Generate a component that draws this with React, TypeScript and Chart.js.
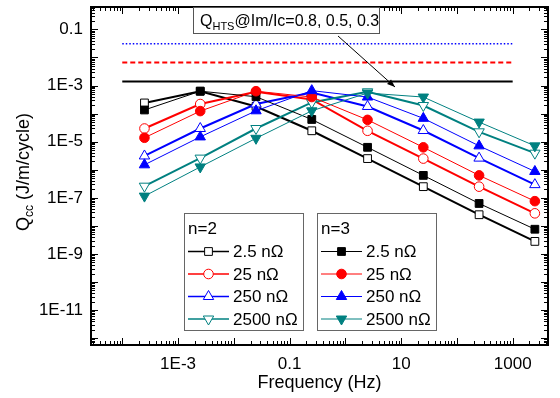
import React, { useEffect, useRef } from 'react';
import { Chart, registerables } from 'chart.js';
Chart.register(...registerables);

// ---------- data ----------
const frequencies = [2.5e-4, 2.5e-3, 0.025, 0.25, 2.5, 25, 250, 2500];
const resistanceLabels = ['2.5 nΩ', '25 nΩ', '250 nΩ', '2500 nΩ'];
const seriesColors = ['#000000', '#FF0000', '#0000FF', '#008080'];
const pointStyles = ['rect', 'circle', 'triangle', 'triangle'];
const pointRotations = [0, 0, 0, 180];

// n = 2 (open symbols)
const n2_2p5 = [2.4e-4, 6.3e-4, 1.8e-4, 2.45e-5, 2.5e-6, 2.5e-7, 2.5e-8, 2.8e-9];
const n2_25 = [2.95e-5, 2.2e-4, 6.0e-4, 3.2e-4, 2.45e-5, 2.5e-6, 2.5e-7, 2.8e-8];
const n2_250 = [3.1e-6, 2.95e-5, 2.2e-4, 5.6e-4, 1.8e-4, 2.5e-5, 2.6e-6, 2.95e-7];
const n2_2500 = [2.6e-7, 2.6e-6, 2.95e-5, 2.5e-4, 6.0e-4, 1.95e-4, 2.25e-5, 3.9e-6];

// n = 3 (filled symbols)
const n3_2p5 = [1.35e-4, 6.3e-4, 4.0e-4, 6.2e-5, 6.3e-6, 6.3e-7, 6.3e-8, 7.6e-9];
const n3_25 = [1.38e-5, 1.23e-4, 6.3e-4, 3.9e-4, 6.0e-5, 6.3e-6, 6.3e-7, 7.6e-8];
const n3_250 = [1.5e-6, 1.48e-5, 1.26e-4, 6.6e-4, 3.9e-4, 6.8e-5, 7.1e-6, 8.7e-7];
const n3_2500 = [1.15e-7, 1.26e-6, 1.32e-5, 1.26e-4, 5.4e-4, 3.9e-4, 5.0e-5, 7.1e-6];

// Q_HTS reference lines (Im/Ic = 0.3, 0.5, 0.8)
const hLineFreq = [1e-4, 1000];
const qhts03 = 1.4e-3;
const qhts05 = 6.6e-3;
const qhts08 = 0.031;

// axes
const xMin = 2.75e-5;
const xMax = 4300;
const yMin = 5.7e-13;
const yMax = 0.63;
const xTickValues = [1e-3, 0.1, 10, 1000];
const xTickLabels = ['1E-3', '0.1', '10', '1000'];
const yTickValues = [0.1, 1e-3, 1e-5, 1e-7, 1e-9, 1e-11];
const yTickLabels = ['0.1', '1E-3', '1E-5', '1E-7', '1E-9', '1E-11'];

const FONT = '"Liberation Sans", Arial, Helvetica, sans-serif';

const n2Sets = [n2_2p5, n2_25, n2_250, n2_2500];
const n3Sets = [n3_2p5, n3_25, n3_250, n3_2500];
const radii = [5.5, 4.8, 6, 6];

function toXY(vals: number[]) {
  return vals.map((v, i) => ({ x: frequencies[i], y: v }));
}

function labelFor(values: number[], labels: string[], v: number) {
  for (let i = 0; i < values.length; i++) {
    if (Math.abs(Math.log10(v) - Math.log10(values[i])) < 1e-6) return labels[i];
  }
  return '';
}

function drawMarker(ctx: CanvasRenderingContext2D, style: string, rot: number, x: number, y: number, r: number, color: string, filled: boolean) {
  ctx.save();
  ctx.beginPath();
  if (style === 'rect') {
    const s = Math.SQRT1_2 * r;
    ctx.rect(x - s, y - s, 2 * s, 2 * s);
  } else if (style === 'circle') {
    ctx.arc(x, y, r, 0, Math.PI * 2);
  } else {
    let rad = (rot * Math.PI) / 180;
    ctx.moveTo(x + Math.sin(rad) * r, y - Math.cos(rad) * r);
    rad += (2 * Math.PI) / 3;
    ctx.lineTo(x + Math.sin(rad) * r, y - Math.cos(rad) * r);
    rad += (2 * Math.PI) / 3;
    ctx.lineTo(x + Math.sin(rad) * r, y - Math.cos(rad) * r);
    ctx.closePath();
  }
  ctx.fillStyle = filled ? color : '#ffffff';
  ctx.fill();
  ctx.lineWidth = 1;
  ctx.strokeStyle = color;
  ctx.stroke();
  ctx.restore();
}

const framePlugin = {
  id: 'frameTicks',
  afterDatasetsDraw(chart: any) {
    const { ctx, chartArea: a, scales } = chart;
    const x = scales.x;
    const y = scales.y;
    ctx.save();
    ctx.strokeStyle = '#000';
    ctx.lineWidth = 1;
    const seg = (x1: number, y1: number, x2: number, y2: number) => {
      ctx.beginPath();
      ctx.moveTo(x1, y1);
      ctx.lineTo(x2, y2);
      ctx.stroke();
    };
    for (let e = Math.floor(Math.log10(xMin)); e <= Math.ceil(Math.log10(xMax)); e++) {
      for (let m = 1; m < 10; m++) {
        const v = m * Math.pow(10, e);
        if (v < xMin || v > xMax) continue;
        const px = Math.round(x.getPixelForValue(v)) + 0.5;
        const len = m === 1 ? 7 : 4;
        seg(px, a.bottom, px, a.bottom - len);
        seg(px, a.top, px, a.top + len);
      }
    }
    for (let e = Math.floor(Math.log10(yMin)); e <= Math.ceil(Math.log10(yMax)); e++) {
      for (let m = 1; m < 10; m++) {
        const v = m * Math.pow(10, e);
        if (v < yMin || v > yMax) continue;
        const py = Math.round(y.getPixelForValue(v)) + 0.5;
        const len = m === 1 ? 7 : 4;
        seg(a.left, py, a.left + len, py);
        seg(a.right, py, a.right - len, py);
      }
    }
    ctx.lineWidth = 2;
    ctx.strokeRect(a.left, a.top, a.right - a.left, a.bottom - a.top);
    ctx.restore();
  },
};

const decorPlugin = {
  id: 'decor',
  afterDraw(chart: any) {
    const { ctx, chartArea: a } = chart;
    ctx.save();
    ctx.fillStyle = '#000';
    ctx.textBaseline = 'alphabetic';

    // ---- y axis title (rotated) ----
    ctx.save();
    ctx.translate(29, 172);
    ctx.rotate(-Math.PI / 2);
    const main = 'Q';
    const rest = ' (J/m/cycle)';
    ctx.font = `18px ${FONT}`;
    const wQ = ctx.measureText(main).width;
    ctx.font = `12px ${FONT}`;
    const wSub = ctx.measureText('cc').width;
    ctx.font = `18px ${FONT}`;
    const wRest = ctx.measureText(rest).width;
    const total = wQ + wSub + wRest;
    let cx = -total / 2;
    ctx.fillText(main, cx, 0);
    cx += wQ;
    ctx.font = `12px ${FONT}`;
    ctx.fillText('cc', cx, 4);
    cx += wSub;
    ctx.font = `18px ${FONT}`;
    ctx.fillText(rest, cx, 0);
    ctx.restore();

    // ---- x axis title ----
    ctx.font = `18px ${FONT}`;
    ctx.textAlign = 'center';
    ctx.fillText('Frequency (Hz)', (a.left + a.right) / 2, 388);
    ctx.textAlign = 'left';

    // ---- Q_HTS annotation ----
    const bx = 193, by = 7, bw = 186, bh = 26;
    ctx.fillStyle = '#fff';
    ctx.fillRect(bx, by, bw, bh);
    ctx.strokeStyle = '#555';
    ctx.lineWidth = 1;
    ctx.strokeRect(bx + 0.5, by + 0.5, bw, bh);
    ctx.fillStyle = '#000';
    ctx.font = `16px ${FONT}`;
    let tx = bx + 7;
    const tb = by + 19;
    ctx.fillText('Q', tx, tb);
    tx += ctx.measureText('Q').width;
    ctx.font = `11px ${FONT}`;
    ctx.fillText('HTS', tx, tb + 4);
    tx += ctx.measureText('HTS').width;
    ctx.font = `16px ${FONT}`;
    ctx.fillText('@Im/Ic=0.8, 0.5, 0.3', tx, tb);

    // arrow
    const ax1 = 338, ay1 = 36, ax2 = 395, ay2 = 87;
    ctx.strokeStyle = '#000';
    ctx.lineWidth = 1;
    ctx.beginPath();
    ctx.moveTo(ax1, ay1);
    ctx.lineTo(ax2, ay2);
    ctx.stroke();
    const ang = Math.atan2(ay2 - ay1, ax2 - ax1);
    const hl = 8, hw = 3;
    ctx.beginPath();
    ctx.moveTo(ax2, ay2);
    ctx.lineTo(ax2 - hl * Math.cos(ang) + hw * Math.sin(ang), ay2 - hl * Math.sin(ang) - hw * Math.cos(ang));
    ctx.lineTo(ax2 - hl * Math.cos(ang) - hw * Math.sin(ang), ay2 - hl * Math.sin(ang) + hw * Math.cos(ang));
    ctx.closePath();
    ctx.fill();

    // ---- legends ----
    const drawLegend = (lx: number, title: string, filled: boolean, lw: number) => {
      const ly = 213, lwid = 119, lh = 117;
      ctx.fillStyle = '#fff';
      ctx.fillRect(lx, ly, lwid, lh);
      ctx.strokeStyle = '#666';
      ctx.lineWidth = 1;
      ctx.strokeRect(lx + 0.5, ly + 0.5, lwid, lh);
      ctx.fillStyle = '#000';
      ctx.font = `17px ${FONT}`;
      ctx.textBaseline = 'middle';
      ctx.fillText(title, lx + 4, ly + 16);
      for (let i = 0; i < 4; i++) {
        const ry = ly + 38.5 + i * 22.5;
        ctx.strokeStyle = seriesColors[i];
        ctx.lineWidth = lw;
        ctx.beginPath();
        ctx.moveTo(lx + 4, ry);
        ctx.lineTo(lx + 45, ry);
        ctx.stroke();
        drawMarker(ctx, pointStyles[i], pointRotations[i], lx + 24.5, ry, radii[i], seriesColors[i], filled);
        ctx.fillStyle = '#000';
        ctx.font = `17px ${FONT}`;
        ctx.fillText(resistanceLabels[i], lx + 49, ry + 1);
      }
      ctx.textBaseline = 'alphabetic';
    };
    drawLegend(184, 'n=2', false, 1.5);
    drawLegend(317, 'n=3', true, 1);

    ctx.restore();
  },
};

export default function App() {
  const canvasRef = useRef<HTMLCanvasElement | null>(null);

  useEffect(() => {
    if (!canvasRef.current) return;
    const datasets: any[] = [];
    for (let i = 3; i >= 0; i--) {
      datasets.push({
        label: 'n=3 ' + resistanceLabels[i],
        data: toXY(n3Sets[i]),
        showLine: true,
        borderColor: seriesColors[i],
        backgroundColor: seriesColors[i],
        borderWidth: 1,
        pointStyle: pointStyles[i],
        rotation: pointRotations[i],
        pointRadius: radii[i],
        pointBorderWidth: 1,
        pointBorderColor: seriesColors[i],
        pointBackgroundColor: seriesColors[i],
        order: 3 - i,
      });
    }
    for (let i = 3; i >= 0; i--) {
      datasets.push({
        label: 'n=2 ' + resistanceLabels[i],
        data: toXY(n2Sets[i]),
        showLine: true,
        borderColor: seriesColors[i],
        backgroundColor: '#ffffff',
        borderWidth: 2,
        pointStyle: pointStyles[i],
        rotation: pointRotations[i],
        pointRadius: radii[i],
        pointBorderWidth: 1,
        pointBorderColor: seriesColors[i],
        pointBackgroundColor: '#ffffff',
        order: 7 - i,
      });
    }
    const hl = (val: number, color: string, dash: number[], w: number, ord: number) => ({
      label: 'Q_HTS',
      data: hLineFreq.map((f) => ({ x: f, y: val })),
      showLine: true,
      borderColor: color,
      borderWidth: w,
      borderDash: dash,
      pointRadius: 0,
      order: ord,
    });
    datasets.push(hl(qhts03, '#000000', [], 2, 8));
    datasets.push(hl(qhts05, '#FF0000', [5, 3], 2, 9));
    datasets.push(hl(qhts08, '#0000FF', [1.5, 2], 1.5, 10));

    const chart = new Chart(canvasRef.current, {
      type: 'scatter',
      data: { datasets },
      options: {
        animation: false,
        responsive: false,
        devicePixelRatio: 1,
        layout: { padding: { left: 0, right: 12, top: 1, bottom: 0 } },
        plugins: { legend: { display: false }, tooltip: { enabled: false }, title: { display: false } },
        scales: {
          x: {
            type: 'logarithmic',
            min: xMin,
            max: xMax,
            grid: { display: false, drawTicks: false },
            border: { display: false },
            ticks: {
              autoSkip: false,
              maxRotation: 0,
              padding: 9,
              color: '#000',
              font: { family: FONT, size: 17 },
              callback: (v: any) => labelFor(xTickValues, xTickLabels, Number(v)),
            },
            afterBuildTicks: (s: any) => {
              s.ticks = xTickValues.map((v) => ({ value: v }));
            },
            afterFit: (s: any) => {
              s.height = 53;
              s.paddingLeft = 0;
              s.paddingRight = 0;
              s.paddingTop = 0;
              s.paddingBottom = 0;
            },
          },
          y: {
            type: 'logarithmic',
            min: yMin,
            max: yMax,
            grid: { display: false, drawTicks: false },
            border: { display: false },
            ticks: {
              autoSkip: false,
              padding: 8,
              color: '#000',
              font: { family: FONT, size: 17 },
              callback: (v: any) => labelFor(yTickValues, yTickLabels, Number(v)),
            },
            afterBuildTicks: (s: any) => {
              s.ticks = yTickValues.map((v) => ({ value: v }));
            },
            afterFit: (s: any) => {
              s.width = 91;
              s.paddingLeft = 0;
              s.paddingRight = 0;
              s.paddingTop = 0;
              s.paddingBottom = 0;
            },
          },
        },
      },
      plugins: [framePlugin, decorPlugin],
    } as any);
    return () => chart.destroy();
  }, []);

  return (
    <div style={{ position: 'fixed', left: 0, top: 0, width: 560, height: 398, background: '#fff' }}>
      <canvas ref={canvasRef} width={560} height={398} style={{ width: 560, height: 398 }} />
    </div>
  );
}
